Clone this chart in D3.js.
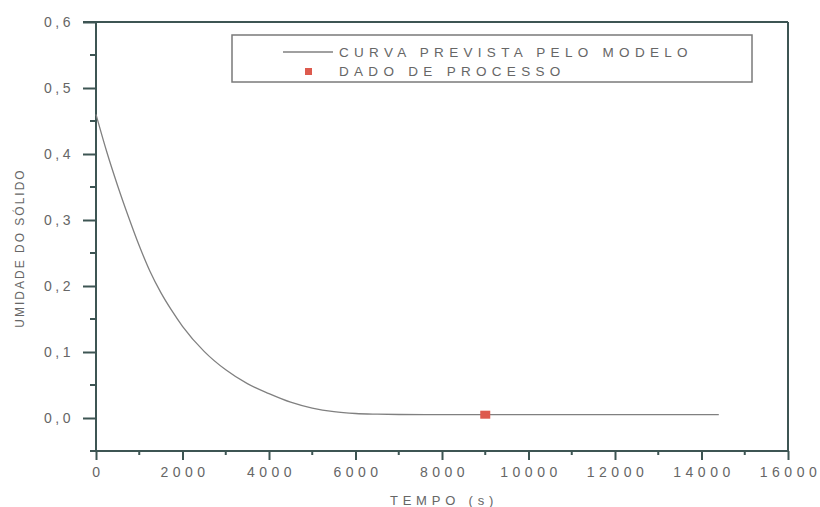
<!DOCTYPE html>
<html>
<head>
<meta charset="utf-8">
<script src="https://cdn.jsdelivr.net/npm/d3@7"></script>
<style>
  body { margin: 0; background: #fff; }
  text { font-family: "Liberation Sans", Arial, sans-serif; fill: #666; }
</style>
</head>
<body>
<svg width="820" height="507"></svg>
<script>
// curve (tempo in s, umidade)
let curveTime = [0, 250, 500, 750, 1000, 1250, 1500, 1750, 2000, 2500, 3000, 3500, 4000, 4500, 5000, 5500, 6000, 6500, 7000, 8000, 10000, 12000, 14400];
let curveValue = [0.460, 0.403, 0.352, 0.305, 0.261, 0.222, 0.190, 0.163, 0.139, 0.101, 0.073, 0.052, 0.037, 0.024, 0.015, 0.0095, 0.0068, 0.0058, 0.0053, 0.005, 0.005, 0.005, 0.005];
// process data point
let pointTime = [9000];
let pointValue = [0.005];

let xTicks = [0, 2000, 4000, 6000, 8000, 10000, 12000, 14000, 16000];
let yTicks = [0, 0.1, 0.2, 0.3, 0.4, 0.5, 0.6];
let legendLabels = ["CURVA PREVISTA PELO MODELO", "DADO DE PROCESSO"];

let svg = d3.select("svg");
let margin = { top: 22, right: 32, bottom: 56, left: 96 },
    width = +svg.attr("width") - margin.left - margin.right,
    height = +svg.attr("height") - margin.top - margin.bottom;

let axisColor = "#3d5553";

let x = d3.scaleLinear().domain([0, 16000]).range([0, width]);
let y = d3.scaleLinear().domain([-0.05, 0.6]).range([height, 0]);

let g = svg.append("g")
    .attr("transform", "translate(" + margin.left + "," + margin.top + ")");

// frame (top + right)
g.append("line").attr("x1", -13).attr("x2", width).attr("y1", 0).attr("y2", 0)
    .attr("stroke", axisColor).attr("stroke-width", 2);
g.append("line").attr("x1", width).attr("x2", width).attr("y1", 0).attr("y2", height)
    .attr("stroke", axisColor).attr("stroke-width", 2);

// minor ticks
g.append("g").selectAll("line")
    .data(d3.range(1000, 16000, 2000))
    .enter().append("line")
    .attr("x1", d => x(d)).attr("x2", d => x(d))
    .attr("y1", height).attr("y2", height + 4)
    .attr("stroke", axisColor).attr("stroke-width", 2);
g.append("g").selectAll("line")
    .data(d3.range(-0.05, 0.6, 0.1))
    .enter().append("line")
    .attr("x1", -6).attr("x2", 0)
    .attr("y1", d => y(d)).attr("y2", d => y(d))
    .attr("stroke", axisColor).attr("stroke-width", 2);

let xAxis = g.append("g")
    .attr("transform", "translate(0," + height + ")")
    .call(d3.axisBottom(x).tickValues(xTicks).tickSize(9).tickFormat(d3.format("d")));
let yAxis = g.append("g")
    .call(d3.axisLeft(y).tickValues(yTicks).tickSize(13).tickFormat(d => d3.format(".1f")(d).replace(".", ",")));

[xAxis, yAxis].forEach(a => {
    a.select(".domain").attr("stroke", axisColor).attr("stroke-width", 2);
    a.selectAll(".tick line").attr("stroke", axisColor).attr("stroke-width", 2);
    a.selectAll("text").style("font-size", "14px").attr("fill", "#666");
});
xAxis.selectAll("text").style("letter-spacing", "4.5px").attr("dy", "1.0em").attr("dx", "2px");
yAxis.selectAll("text").style("letter-spacing", "3.5px").attr("x", -22);
xAxis.select(".domain").attr("d", "M0,0H" + width);
yAxis.select(".domain").attr("d", "M0," + height + "V0");

// curve
let line = d3.line()
    .x((d, i) => x(curveTime[i]))
    .y(d => y(d))
    .curve(d3.curveMonotoneX);
g.append("path")
    .datum(curveValue)
    .attr("fill", "none")
    .attr("stroke", "#808080")
    .attr("stroke-width", 1.3)
    .attr("d", line);

// data point
g.selectAll(".pt")
    .data(pointValue)
    .enter().append("rect")
    .attr("x", (d, i) => x(pointTime[i]) - 5)
    .attr("y", d => y(d) - 4)
    .attr("width", 10).attr("height", 8)
    .attr("fill", "#dd5a4e");

// axis titles
g.append("text")
    .attr("x", width / 2 + 2).attr("y", height + 54)
    .attr("text-anchor", "middle")
    .style("font-size", "13px").style("letter-spacing", "4.8px")
    .text("TEMPO (s)");
svg.append("text")
    .attr("transform", "translate(24,248) rotate(-90)")
    .attr("text-anchor", "middle")
    .style("font-size", "12px").style("letter-spacing", "2px")
    .text("UMIDADE DO SÓLIDO");

// legend
let leg = svg.append("g");
leg.append("rect")
    .attr("x", 232).attr("y", 35).attr("width", 520).attr("height", 47)
    .attr("fill", "#fff").attr("stroke", "#7a7a7a").attr("stroke-width", 1.5);
leg.append("line")
    .attr("x1", 283).attr("x2", 333).attr("y1", 52).attr("y2", 52)
    .attr("stroke", "#808080").attr("stroke-width", 1.3);
leg.append("rect")
    .attr("x", 305).attr("y", 68).attr("width", 7).attr("height", 7)
    .attr("fill", "#dd5a4e");
leg.selectAll(".lt")
    .data(legendLabels)
    .enter().append("text")
    .attr("x", 339)
    .attr("y", (d, i) => 57 + i * 19)
    .style("font-size", "13.5px").style("letter-spacing", "5.3px")
    .text(d => d);
</script>
</body>
</html>
